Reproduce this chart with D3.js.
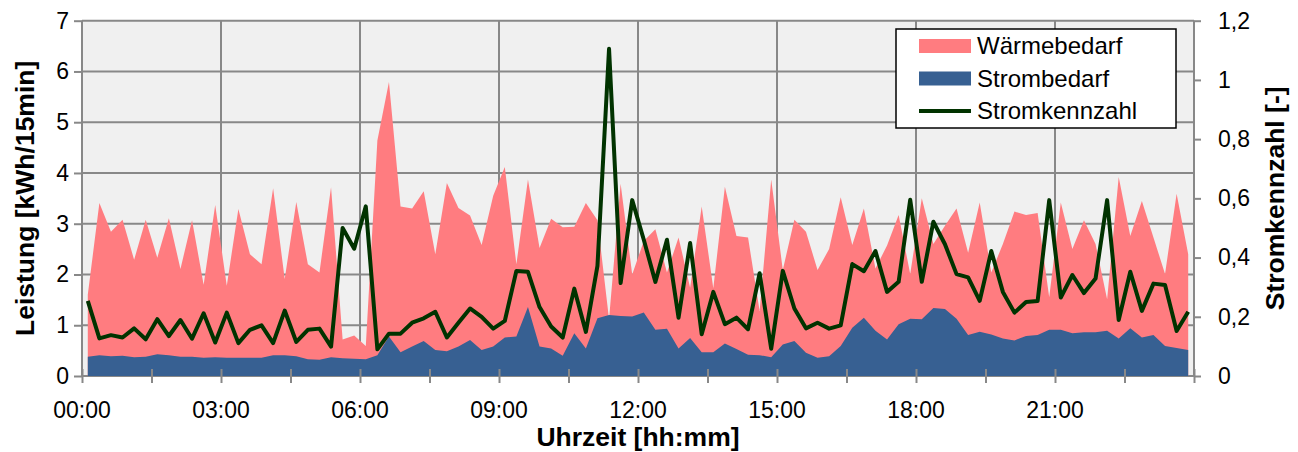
<!DOCTYPE html>
<html>
<head>
<meta charset="utf-8">
<script src="https://cdn.jsdelivr.net/npm/d3@7"></script>
<style>
    body { margin: 0; background: #fff; }
    svg text { font-family: "Liberation Sans", Arial, sans-serif; fill: #000; }
</style>
</head>
<body>
<div id="chart-area"></div>
<script>
// 15-min slots, values plotted at the middle of each slot (hours)
const slotHours = d3.range(96).map(i => (i + 0.5) / 4);

// Wärmebedarf [kWh/15min]
const waermebedarf = [
    1.60, 3.41, 2.84, 3.08, 2.29, 3.08, 2.33, 3.11, 2.11, 3.07, 1.80, 3.37,
    1.78, 3.29, 2.40, 2.20, 3.70, 1.91, 3.43, 2.20, 2.04, 3.72, 0.72, 0.80,
    0.59, 4.64, 5.79, 3.34, 3.30, 3.64, 2.40, 3.80, 3.31, 3.16, 2.58, 3.55,
    4.12, 2.20, 3.87, 2.52, 3.10, 2.93, 2.94, 3.41, 3.07, 1.12, 3.79, 2.00,
    2.66, 2.89, 2.04, 2.73, 1.74, 3.34, 1.73, 3.73, 2.76, 2.73, 1.28, 3.87,
    2.09, 3.08, 2.84, 2.09, 2.50, 3.52, 2.58, 3.30, 2.12, 2.57, 3.17, 2.01,
    3.50, 2.60, 2.96, 3.30, 2.43, 3.42, 2.04, 2.60, 3.24, 3.17, 3.21, 1.55,
    3.42, 2.50, 3.07, 2.60, 1.51, 3.92, 2.76, 3.45, 2.73, 2.01, 3.59, 2.40
];

// Strombedarf [kWh/15min]
const strombedarf = [
    0.38, 0.41, 0.39, 0.40, 0.37, 0.38, 0.43, 0.41, 0.38, 0.38, 0.36, 0.37,
    0.36, 0.36, 0.36, 0.36, 0.41, 0.41, 0.39, 0.33, 0.32, 0.37, 0.35, 0.34,
    0.33, 0.41, 0.78, 0.47, 0.58, 0.69, 0.51, 0.49, 0.58, 0.71, 0.51, 0.58,
    0.76, 0.78, 1.36, 0.58, 0.54, 0.40, 0.84, 0.54, 1.14, 1.20, 1.18, 1.17,
    1.25, 0.91, 0.93, 0.54, 0.75, 0.47, 0.47, 0.64, 0.53, 0.42, 0.41, 0.37,
    0.62, 0.69, 0.46, 0.36, 0.39, 0.59, 0.95, 1.15, 0.89, 0.72, 1.02, 1.13,
    1.12, 1.34, 1.32, 1.13, 0.81, 0.87, 0.82, 0.74, 0.70, 0.79, 0.81, 0.91,
    0.91, 0.84, 0.86, 0.86, 0.89, 0.74, 0.94, 0.76, 0.81, 0.59, 0.55, 0.51
];

// Stromkennzahl [-]
const stromkennzahl = [
    0.254, 0.127, 0.138, 0.130, 0.161, 0.124, 0.192, 0.135, 0.189, 0.126, 0.212, 0.113,
    0.214, 0.111, 0.156, 0.171, 0.111, 0.221, 0.115, 0.156, 0.160, 0.099, 0.500, 0.430,
    0.573, 0.090, 0.143, 0.143, 0.180, 0.195, 0.217, 0.130, 0.180, 0.228, 0.200, 0.160,
    0.186, 0.355, 0.352, 0.233, 0.167, 0.130, 0.295, 0.149, 0.372, 1.105, 0.314, 0.594,
    0.460, 0.318, 0.460, 0.197, 0.449, 0.141, 0.284, 0.175, 0.197, 0.158, 0.347, 0.092,
    0.355, 0.228, 0.161, 0.180, 0.160, 0.171, 0.378, 0.354, 0.422, 0.284, 0.318, 0.595,
    0.318, 0.521, 0.445, 0.344, 0.333, 0.254, 0.422, 0.284, 0.214, 0.250, 0.253, 0.594,
    0.265, 0.341, 0.280, 0.329, 0.594, 0.189, 0.352, 0.220, 0.312, 0.307, 0.152, 0.217
];

const leftTicks = [0, 1, 2, 3, 4, 5, 6, 7];
const rightTicks = [0, 0.2, 0.4, 0.6, 0.8, 1.0, 1.2];
const hourTicks = [0, 3, 6, 9, 12, 15, 18, 21, 24];
const minorHourTicks = d3.range(0, 24.01, 1.5);
const xLabelHours = [0, 3, 6, 9, 12, 15, 18, 21];

const legendItems = [
    {name: "Wärmebedarf", type: "area", color: "#ff7c80"},
    {name: "Strombedarf", type: "area", color: "#376092"},
    {name: "Stromkennzahl", type: "line", color: "#013300"}
];


function LoadChart(parent) {
    let vis = this;

    vis.parent = d3.select(parent);
    vis.initVis();
}

LoadChart.prototype.initVis = function() {
    let vis = this;

    vis.margin = {"top": 20.7, "left": 82, "right": 104, "bottom": 76};
    vis.width = 1298 - vis.margin.left - vis.margin.right;
    vis.height = 452 - vis.margin.top - vis.margin.bottom;

    vis.svg = vis.parent.append("svg")
        .attr("width", 1298)
        .attr("height", 452)
        .append("g")
        .attr("transform", "translate(" + vis.margin.left + "," + vis.margin.top + ")");

    vis.x = d3.scaleLinear().domain([0, 24]).range([0, vis.width]);
    vis.y = d3.scaleLinear().domain([0, 7]).range([vis.height, 0]);
    vis.y2 = d3.scaleLinear().domain([0, 1.2]).range([vis.height, 0]);

    vis.svg.append("rect")
        .attr("width", vis.width)
        .attr("height", vis.height)
        .style("fill", "#f0f0f0");

    // grid
    vis.svg.append("g")
        .attr("class", "grid")
        .selectAll("line.h")
        .data(leftTicks)
        .enter()
        .append("line")
        .attr("x1", 0)
        .attr("x2", vis.width)
        .attr("y1", d => vis.y(d))
        .attr("y2", d => vis.y(d));
    vis.svg.select("g.grid")
        .selectAll("line.v")
        .data(hourTicks)
        .enter()
        .append("line")
        .attr("class", "v")
        .attr("x1", d => vis.x(d))
        .attr("x2", d => vis.x(d))
        .attr("y1", 0)
        .attr("y2", vis.height);
    vis.svg.selectAll("g.grid line")
        .style("stroke", "#888")
        .style("stroke-width", 2);

    vis.drawSeries();
    vis.drawAxes();
    vis.drawLegend();
};

LoadChart.prototype.drawSeries = function() {
    let vis = this;

    let area = d3.area()
        .x((d, i) => vis.x(slotHours[i]))
        .y0(vis.y(0))
        .y1(d => vis.y(d));

    vis.svg.append("path")
        .datum(waermebedarf)
        .attr("d", area)
        .style("fill", legendItems[0].color);

    vis.svg.append("path")
        .datum(strombedarf)
        .attr("d", area)
        .style("fill", legendItems[1].color);

    let line = d3.line()
        .x((d, i) => vis.x(slotHours[i]))
        .y(d => vis.y2(d));

    vis.svg.append("path")
        .datum(stromkennzahl)
        .attr("d", line)
        .style("fill", "none")
        .style("stroke", legendItems[2].color)
        .style("stroke-width", 4)
        .style("stroke-linejoin", "round");
};

LoadChart.prototype.drawAxes = function() {
    let vis = this;

    let leftAxis = vis.svg.append("g")
        .attr("class", "axis left-axis")
        .call(
            d3.axisLeft(vis.y)
                .tickValues(leftTicks)
                .tickSize(8)
                .tickPadding(5)
                .tickFormat(d3.format("d"))
        );

    let rightAxis = vis.svg.append("g")
        .attr("class", "axis right-axis")
        .attr("transform", "translate(" + vis.width + ",0)")
        .call(
            d3.axisRight(vis.y2)
                .tickValues(rightTicks)
                .tickSize(7)
                .tickPadding(17)
                .tickFormat(d => String(+d.toFixed(1)).replace(".", ","))
        );

    let bottomAxis = vis.svg.append("g")
        .attr("class", "axis bottom-axis")
        .attr("transform", "translate(0," + vis.height + ")")
        .call(
            d3.axisBottom(vis.x)
                .tickValues(minorHourTicks)
                .tickSize(7)
                .tickFormat("")
        );
    bottomAxis.selectAll(".tick line").attr("y1", -7);

    vis.svg.append("g")
        .attr("class", "x-labels")
        .selectAll("text")
        .data(xLabelHours)
        .enter()
        .append("text")
        .attr("x", d => vis.x(d))
        .attr("y", vis.height + 42)
        .attr("text-anchor", "middle")
        .style("font-size", "23px")
        .text(d => d3.format("02d")(d) + ":00");

    vis.svg.selectAll(".axis path, .axis line")
        .style("stroke", "#888")
        .style("stroke-width", 2);
    vis.svg.selectAll(".axis text")
        .style("font-size", "23px")
        .style("font-family", "Liberation Sans, Arial, sans-serif")
        .style("fill", "#000");
    leftAxis.select(".domain").remove();
    rightAxis.select(".domain").remove();
    bottomAxis.select(".domain").remove();

    vis.svg.append("text")
        .attr("text-anchor", "middle")
        .attr("x", vis.width / 2)
        .attr("y", vis.height + 70)
        .style("font-size", "26.5px")
        .style("font-weight", "bold")
        .text("Uhrzeit [hh:mm]");

    vis.svg.append("text")
        .attr("text-anchor", "middle")
        .attr("transform", "translate(" + (-48) + "," + (vis.height / 2) + ") rotate(-90)")
        .style("font-size", "26.5px")
        .style("font-weight", "bold")
        .text("Leistung [kWh/15min]");

    vis.svg.append("text")
        .attr("text-anchor", "middle")
        .attr("transform", "translate(" + (vis.width + 90) + "," + (vis.height / 2) + ") rotate(-90)")
        .style("font-size", "26.5px")
        .style("font-weight", "bold")
        .text("Stromkennzahl [-]");
};

LoadChart.prototype.drawLegend = function() {
    let vis = this;

    let legend = vis.svg.append("g")
        .attr("class", "legend")
        .attr("transform", "translate(" + (896 - vis.margin.left) + "," + (29 - vis.margin.top) + ")");

    legend.append("rect")
        .attr("width", 280)
        .attr("height", 99)
        .style("fill", "#fff")
        .style("stroke", "#000")
        .style("stroke-width", 1.5);

    let items = legend.selectAll("g.item")
        .data(legendItems)
        .enter()
        .append("g")
        .attr("class", "item")
        .attr("transform", (d, i) => "translate(23," + (17 + i * 32.5) + ")");

    items.filter(d => d.type === "area")
        .append("rect")
        .attr("y", -7)
        .attr("width", 52)
        .attr("height", 14)
        .style("fill", d => d.color);

    items.filter(d => d.type === "line")
        .append("line")
        .attr("x2", 52)
        .style("stroke", d => d.color)
        .style("stroke-width", 4);

    items.append("text")
        .attr("x", 58)
        .attr("dy", "0.35em")
        .style("font-size", "24px")
        .text(d => d.name);
};

new LoadChart("#chart-area");
</script>
</body>
</html>
